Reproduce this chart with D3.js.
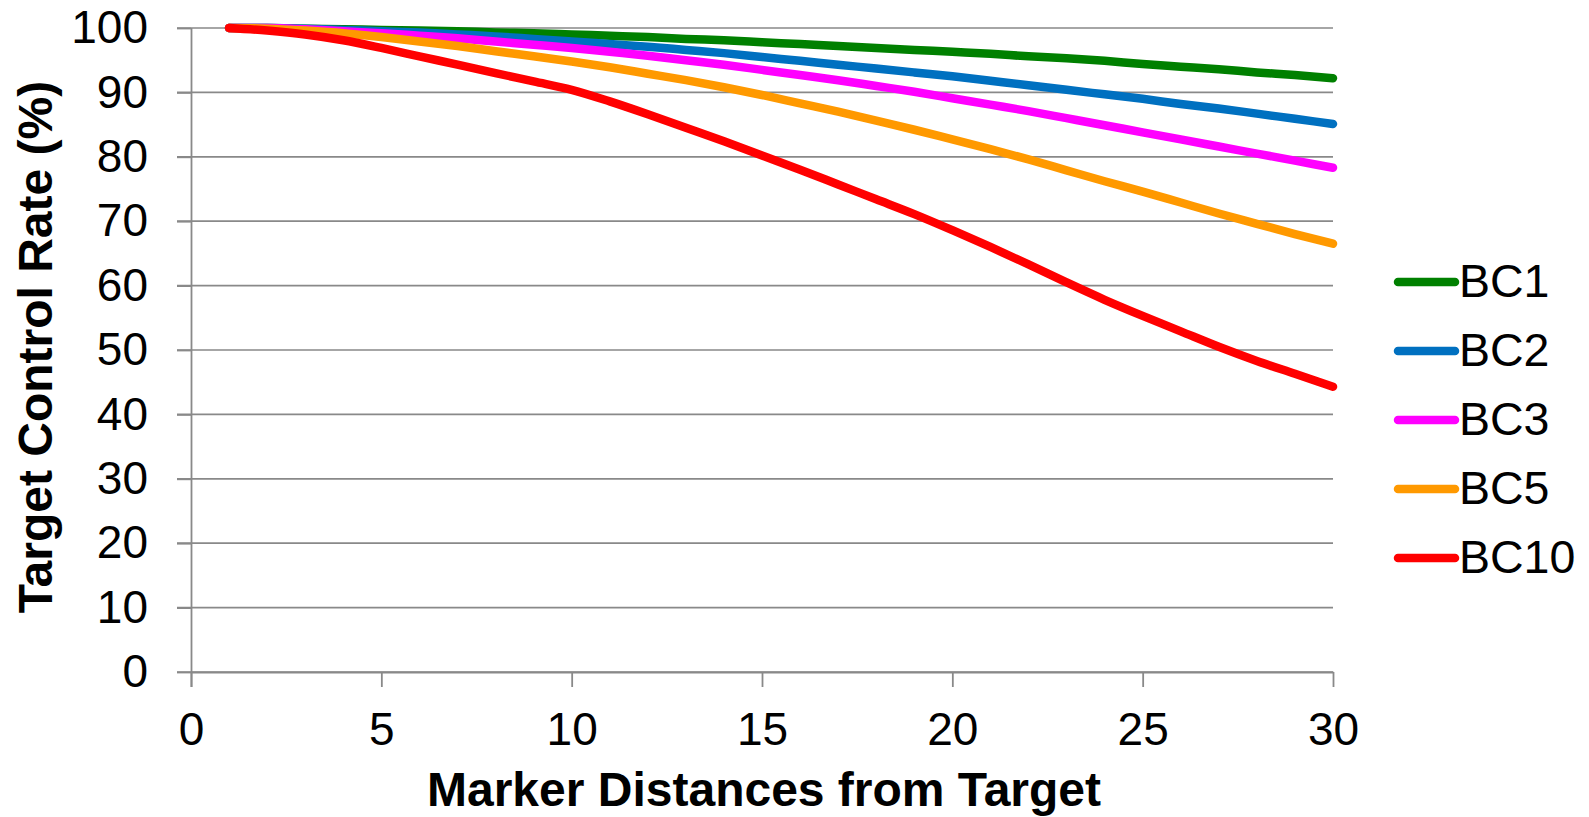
<!DOCTYPE html>
<html>
<head>
<meta charset="utf-8">
<script src="https://cdn.jsdelivr.net/npm/d3@7"></script>
<style>
  body { margin: 0; background: #fff; }
  svg { display: block; font-family: Arial, "Liberation Sans", sans-serif; }
</style>
</head>
<body>
<script>
const w = 1589;
const h = 817;
const padding = { top: 28, right: 256, bottom: 145, left: 191 };

// data
const distances = [1, 2, 3, 4, 5, 6, 7, 8, 9, 10, 11, 12, 13, 14, 15, 16, 17, 18, 19, 20, 21, 22, 23, 24, 25, 26, 27, 28, 29, 30];
const bc1 = [100, 100, 99.9, 99.8, 99.7, 99.6, 99.5, 99.3, 99.2, 99.0, 98.8, 98.6, 98.3, 98.1, 97.8, 97.5, 97.2, 96.9, 96.6, 96.3, 96.0, 95.6, 95.3, 94.9, 94.4, 94.0, 93.6, 93.1, 92.7, 92.2];
const bc2 = [100, 100, 99.9, 99.7, 99.5, 99.3, 99.0, 98.7, 98.3, 97.9, 97.5, 97.1, 96.6, 96.1, 95.5, 94.9, 94.3, 93.7, 93.1, 92.5, 91.8, 91.1, 90.4, 89.7, 89.0, 88.2, 87.5, 86.7, 85.9, 85.1];
const bc3 = [100, 100, 99.8, 99.5, 99.2, 98.8, 98.4, 97.9, 97.4, 96.9, 96.3, 95.7, 95.0, 94.3, 93.5, 92.7, 91.9, 91.0, 90.1, 89.1, 88.1, 87.1, 86.0, 84.9, 83.8, 82.7, 81.6, 80.5, 79.4, 78.3];
const bc5 = [100, 99.9, 99.6, 99.2, 98.6, 97.9, 97.2, 96.4, 95.6, 94.8, 93.9, 92.9, 91.9, 90.8, 89.6, 88.3, 87.0, 85.6, 84.2, 82.7, 81.2, 79.6, 77.9, 76.2, 74.6, 72.9, 71.2, 69.6, 68.0, 66.5];
const bc10 = [100, 99.6, 99.0, 98.1, 96.9, 95.6, 94.3, 93.0, 91.7, 90.4, 88.6, 86.6, 84.5, 82.4, 80.2, 78.0, 75.7, 73.4, 71.1, 68.6, 66.0, 63.3, 60.5, 57.8, 55.3, 52.9, 50.5, 48.3, 46.3, 44.3];
const seriesNames = ["BC1", "BC2", "BC3", "BC5", "BC10"];
const seriesValues = [bc1, bc2, bc3, bc5, bc10];
const xTicks = [0, 5, 10, 15, 20, 25, 30];
const yTicks = [0, 10, 20, 30, 40, 50, 60, 70, 80, 90, 100];

const colors = ["#008000", "#0070c0", "#ff00ff", "#ff9900", "#ff0000"];
const gridColor = "#898989";

const series = seriesNames.map((name, i) => ({
	name,
	color: colors[i],
	points: distances.map((d, j) => [d, seriesValues[i][j]]),
}));

// Create scales
const xScale = d3.scaleLinear().domain([0, 30]).range([padding.left, w - padding.right]);
const yScale = d3.scaleLinear().domain([0, 100]).range([h - padding.bottom, padding.top]);

// Create SVG
const svg = d3.select("body").append("svg").attr("width", w).attr("height", h);
svg.append("rect").attr("width", w).attr("height", h).attr("fill", "#fff");

// gridlines (run out over the y tick marks like excel)
svg
	.append("g")
	.selectAll("line")
	.data(yTicks)
	.enter()
	.append("line")
	.attr("x1", xScale(0) - 14)
	.attr("x2", xScale(30))
	.attr("y1", (d) => yScale(d))
	.attr("y2", (d) => yScale(d))
	.attr("stroke", gridColor)
	.attr("stroke-width", 1.7);

// y axis
const yAxis = d3.axisLeft(yScale).tickValues(yTicks).tickSize(14).tickSizeOuter(0).tickPadding(29);
const gy = svg.append("g").attr("transform", `translate(${padding.left},0)`).call(yAxis);

// x axis
const xAxis = d3.axisBottom(xScale).tickValues(xTicks).tickSize(15).tickSizeOuter(0).tickPadding(25);
const gx = svg.append("g").attr("transform", `translate(0,${h - padding.bottom})`).call(xAxis);

[gx, gy].forEach((g) => {
	g.select(".domain").attr("stroke", gridColor).attr("stroke-width", 1.8);
	g.selectAll(".tick line").attr("stroke", gridColor).attr("stroke-width", 1.8);
	g.selectAll(".tick text").attr("fill", "#000").style("font-size", "46px").style("font-family", "Arial, 'Liberation Sans', sans-serif");
});
// vertical axis line runs down to the x tick at 0
gy.select(".domain").attr("d", `M0.5,${yScale(100)}V${yScale(0) + 15}`);

// Add lines
const line = d3
	.line()
	.x((d) => xScale(d[0]))
	.y((d) => yScale(d[1]))
	.curve(d3.curveMonotoneX);

svg
	.append("g")
	.selectAll("path")
	.data(series)
	.enter()
	.append("path")
	.attr("d", (d) => line(d.points))
	.attr("fill", "none")
	.attr("stroke", (d) => d.color)
	.attr("stroke-width", 8.5)
	.attr("stroke-linecap", "round")
	.attr("stroke-linejoin", "round");

// legend
const legend = svg
	.append("g")
	.selectAll("g")
	.data(series)
	.enter()
	.append("g")
	.attr("transform", (_, i) => `translate(1398,${282 + i * 69})`);

legend
	.append("line")
	.attr("x1", 0)
	.attr("x2", 57)
	.attr("stroke", (d) => d.color)
	.attr("stroke-width", 8.5)
	.attr("stroke-linecap", "round");

legend
	.append("text")
	.attr("x", 61)
	.attr("dy", "0.33em")
	.style("font-size", "46.5px")
	.text((d) => d.name);

// axis titles
svg
	.append("text")
	.attr("x", 764)
	.attr("y", 806)
	.attr("text-anchor", "middle")
	.style("font-size", "48px")
	.style("font-weight", "bold")
	.text("Marker Distances from Target");

svg
	.append("text")
	.attr("transform", "translate(52,347) rotate(-90)")
	.attr("text-anchor", "middle")
	.style("font-size", "48px")
	.style("font-weight", "bold")
	.text("Target Control Rate (%)");
</script>
</body>
</html>
